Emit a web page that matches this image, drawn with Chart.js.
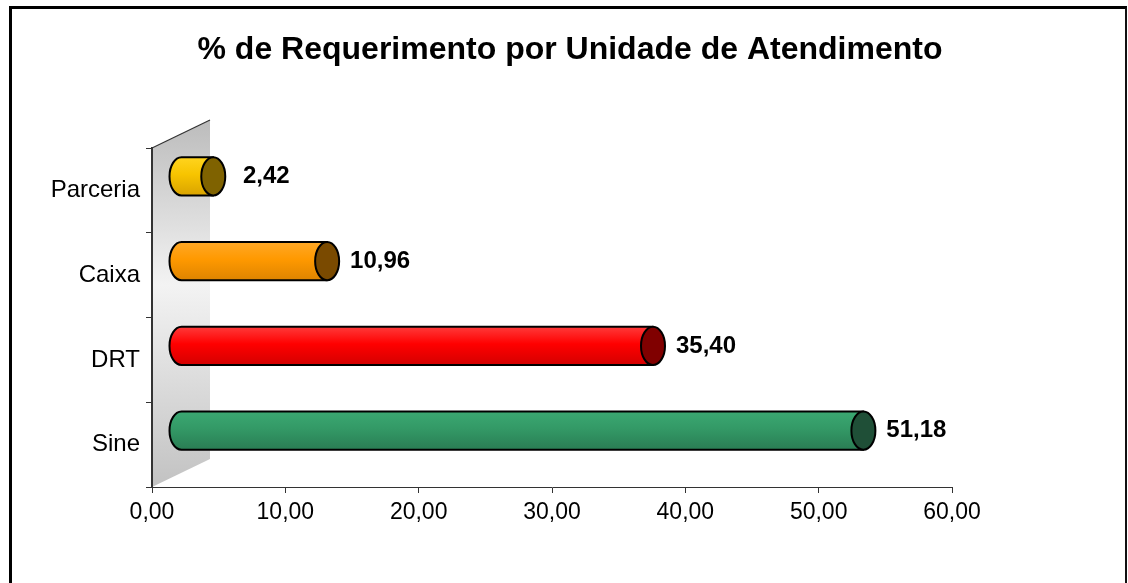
<!DOCTYPE html>
<html>
<head>
<meta charset="utf-8">
<script src="https://cdn.jsdelivr.net/npm/chart.js@4/dist/chart.umd.min.js"></script>
<style>
  body{margin:0;background:#fff;overflow:hidden;}
  #wrap{position:relative;width:1128px;height:583px;overflow:hidden;}
  #frame{position:absolute;left:9px;top:6px;width:1118px;height:620px;box-sizing:border-box;
    border-top:3px solid #000;border-left:3px solid #000;border-right:2px solid #111;}
  #chart{position:absolute;left:0;top:0;}
</style>
</head>
<body>
<div id="wrap">
  <div id="frame"></div>
  <canvas id="chart" width="1128" height="583"></canvas>
</div>
<script>
// data
const categories = ["Parceria", "Caixa", "DRT", "Sine"];
const percentages = [2.42, 10.96, 35.40, 51.18];
const axisMin = 0;
const axisMax = 60;
const axisStep = 10;
const chartTitle = "% de Requerimento por Unidade de Atendimento";

// styles
const bodyColors = [
  ["#ffd41f", "#f7c400", "#d9a300"],
  ["#ffa826", "#ff9900", "#de8400"],
  ["#ff3a3a", "#ff0000", "#d40000"],
  ["#3ba872", "#339966", "#2a7d54"]
];
const capColors = ["#7f6200", "#7a4a00", "#800000", "#1f4f37"];
const FONT = "'Liberation Sans', Arial, sans-serif";
const DEPTH_X = 58, DEPTH_Y = -28;

function fmt(v){ return Number(v).toFixed(2).replace(".", ","); }

// back wall of the 3d plot
const wallPlugin = {
  id: "wall",
  beforeDraw(chart){
    const {ctx, chartArea:a} = chart;
    const g = ctx.createLinearGradient(0, a.top + DEPTH_Y, 0, a.bottom);
    g.addColorStop(0, "#bcbcbc");
    g.addColorStop(0.45, "#f3f3f3");
    g.addColorStop(1, "#c2c2c2");
    ctx.save();
    ctx.beginPath();
    ctx.moveTo(a.left, a.top);
    ctx.lineTo(a.left + DEPTH_X, a.top + DEPTH_Y);
    ctx.lineTo(a.left + DEPTH_X, a.bottom + DEPTH_Y);
    ctx.lineTo(a.left, a.bottom);
    ctx.closePath();
    ctx.fillStyle = g;
    ctx.fill();
    ctx.beginPath();
    ctx.moveTo(a.left, a.top);
    ctx.lineTo(a.left + DEPTH_X, a.top + DEPTH_Y);
    ctx.strokeStyle = "#333";
    ctx.lineWidth = 1.2;
    ctx.stroke();
    ctx.restore();
  },
  afterLayout(chart){
    // centre the title on the frame, not the plot
    const t = chart.titleBlock;
    if(t){ t.left = 0; t.right = 1140; }
  }
};

// cylinders drawn over the (invisible) bar elements
const cylinderPlugin = {
  id: "cylinders",
  afterDatasetsDraw(chart){
    const ctx = chart.ctx;
    const meta = chart.getDatasetMeta(0);
    const dx = DEPTH_X / 2, dy = DEPTH_Y / 2;
    meta.data.forEach((bar, i) => {
      const p = bar.getProps(["x", "y", "base", "height"], true);
      const x0 = p.base + dx, x1 = p.x + dx, cy = p.y + dy;
      const ry = p.height / 2, rx = 12;
      ctx.save();
      ctx.lineWidth = 2;
      ctx.strokeStyle = "#000";
      ctx.lineJoin = "round";

      // body
      const g = ctx.createLinearGradient(0, cy - ry, 0, cy + ry);
      g.addColorStop(0, bodyColors[i][0]);
      g.addColorStop(0.45, bodyColors[i][1]);
      g.addColorStop(1, bodyColors[i][2]);
      ctx.beginPath();
      ctx.moveTo(x0, cy - ry);
      ctx.lineTo(x1, cy - ry);
      ctx.lineTo(x1, cy + ry);
      ctx.lineTo(x0, cy + ry);
      ctx.ellipse(x0, cy, rx, ry, 0, Math.PI / 2, Math.PI * 1.5);
      ctx.closePath();
      ctx.fillStyle = g;
      ctx.fill();
      ctx.stroke();

      // end cap
      ctx.beginPath();
      ctx.ellipse(x1, cy, rx, ry, 0, 0, Math.PI * 2);
      ctx.fillStyle = capColors[i];
      ctx.fill();
      ctx.stroke();

      // value label
      ctx.fillStyle = "#000";
      ctx.font = "bold 24px " + FONT;
      ctx.textAlign = "center";
      ctx.textBaseline = "middle";
      ctx.fillText(fmt(percentages[i]), x1 + 53, cy);
      ctx.restore();
    });
  }
};

new Chart(document.getElementById("chart"), {
  type: "bar",
  data: {
    labels: categories,
    datasets: [{
      data: percentages,
      backgroundColor: "rgba(0,0,0,0)",
      borderWidth: 0,
      barPercentage: 0.45,
      categoryPercentage: 1
    }]
  },
  options: {
    indexAxis: "y",
    responsive: false,
    animation: false,
    layout: { padding: { left: 12, right: 176, top: 0, bottom: 0 } },
    plugins: {
      legend: { display: false },
      tooltip: { enabled: false },
      title: {
        display: true,
        text: chartTitle,
        color: "#000",
        font: { family: FONT, size: 32, weight: "bold" },
        padding: { top: 31, bottom: 78.6 }
      }
    },
    scales: {
      x: {
        min: axisMin,
        max: axisMax,
        afterFit(scale){ scale.height = 96; },
        ticks: {
          stepSize: axisStep,
          color: "#000",
          padding: 6,
          font: { family: FONT, size: 23 },
          callback: v => fmt(v)
        },
        grid: { drawOnChartArea: false, drawTicks: true, tickLength: 6, color: "#333" },
        border: { color: "#333", width: 1 }
      },
      y: {
        afterFit(scale){ scale.width = 140; },
        ticks: {
          color: "#000",
          padding: 6,
          font: { family: FONT, size: 24 }
        },
        grid: { drawOnChartArea: false, drawTicks: true, tickLength: 6, color: "#333", offset: true },
        border: { color: "#333", width: 2 }
      }
    }
  },
  plugins: [wallPlugin, cylinderPlugin]
});
</script>
</body>
</html>
